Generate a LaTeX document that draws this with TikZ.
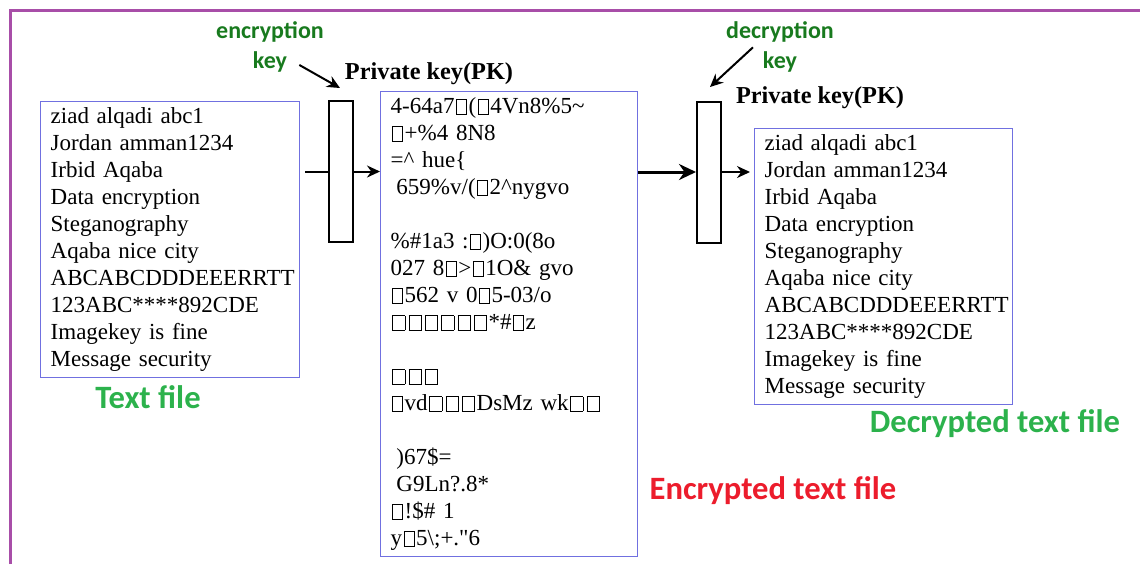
\documentclass[tikz,border=0pt]{standalone}
\usepackage{fontspec}
\setmainfont{Liberation Serif}
\newfontfamily\capfont{Carlito}
\usetikzlibrary{arrows.meta,positioning}
\definecolor{framepurple}{RGB}{168,78,168}
\definecolor{boxblue}{RGB}{112,112,224}
\definecolor{capgreen}{RGB}{44,178,76}
\definecolor{keygreen}{RGB}{24,122,30}
\definecolor{capred}{RGB}{236,28,44}
\hyphenpenalty=10000
\exhyphenpenalty=10000
\newcommand{\tofu}[1][0.4em]{\leavevmode\kern0.07em{\fboxsep=0pt\fboxrule=0.4pt\fbox{\rule{0pt}{0.6em}\kern#1}}\kern0.07em}
\tikzstyle{filebox}=[draw=boxblue,line width=0.7pt,anchor=north west,align=left,
  inner xsep=5pt,inner ysep=0pt,text width=119.5pt,font=\fontsize{11.5}{13.5}\selectfont]
\tikzstyle{keybox}=[draw,line width=1pt,minimum width=12pt,minimum height=70.5pt,inner sep=0pt]
\tikzstyle{filecaption}=[font=\capfont\bfseries\fontsize{16.3}{18}\selectfont]

\begin{document}
\begin{tikzpicture}[x=0.5pt,y=-0.5pt,>={Stealth[length=6.5pt,width=6pt]},node distance=15pt]
  \tikzstyle{keytxt}=[text=keygreen,font=\capfont\bfseries\fontsize{12}{14}\selectfont]
  \tikzstyle{pklabel}=[font=\bfseries\fontsize{12.15}{14}\selectfont]
  \tikzstyle{wire}=[line width=1pt]

  \useasboundingbox (0,0) rectangle (1140,564);
  \draw[framepurple,line width=1.5pt] (10,564) -- (10,10) -- (1140,10);

  \node[filebox,minimum height=138pt] (plain) at (40,101) {ziad alqadi abc1\\ Jordan amman1234\\
    Irbid Aqaba\\ Data encryption\\ Steganography\\ Aqaba nice city\\ ABCABCDDDEEERRTT\\
    123ABC****892CDE\\ Imagekey is fine\\ Message security};
  \node[filebox,text width=118.5pt,minimum height=232.5pt] (cipher) at (380,91) {4-64a7\tofu(\tofu4Vn8\%5\textasciitilde\\
    \tofu+\%4 8N8\\ =\textasciicircum{} hue\{\\ \hspace*{0.25em}659\%v/(\tofu2\textasciicircum nygvo\\ \mbox{}\\
    \%\#1a3 :\tofu)O:0(8o\\ 027 8\tofu>\tofu1O\& gvo\\ \tofu562 v 0\tofu5-03/o\\
    \tofu[0.5em]\tofu[0.5em]\tofu[0.5em]\tofu[0.5em]\tofu[0.5em]\tofu[0.5em]*\#\tofu z\\ \mbox{}\\
    \tofu[0.5em]\tofu[0.5em]\tofu[0.5em]\\
    \tofu vd\tofu[0.5em]\tofu[0.5em]\tofu[0.5em]DsMz wk\tofu[0.5em]\tofu[0.5em]\\ \mbox{}\\ \hspace*{0.25em})67\$=\\
    \hspace*{0.25em}G9Ln?.8*\\ \tofu!\$\# 1\\ y\tofu5\textbackslash;+.\textquotedbl6};
  \node[filebox,text width=119pt,minimum height=138pt] (decoded) at (754,128) {ziad alqadi abc1\\ Jordan amman1234\\
    Irbid Aqaba\\ Data encryption\\ Steganography\\ Aqaba nice city\\ ABCABCDDDEEERRTT\\
    123ABC****892CDE\\ Imagekey is fine\\ Message security};

  \node[keybox] (key1) at (341,171.5) {};
  \node[keybox] (key2) at (709,172) {};

  \node[pklabel] (pk1) at (429,74) {Private key(PK)};
  \node[pklabel] (pk2) at (820,98) {Private key(PK)};
  \node[keytxt] (enctxt) at (270,32) {encryption};
  \node[keytxt,below of=enctxt] (enckey) {key};
  \node[keytxt] (dectxt) at (780,32) {decryption};
  \node[keytxt,below of=dectxt] (deckey) {key};
  \coordinate (enctip) at (340,88);
  \coordinate (dectip) at (710,87);

  \node[filecaption,text=capgreen] (plaincap) at (148,397) {Text file};
  \node[filecaption,text=capred] (ciphercap) at (773,491) {Encrypted text file};
  \node[filecaption,text=capgreen] (decodedcap) at (995,424) {Decrypted text file};

  \draw[wire,shorten <=2.5pt] (plain.east |- key1.west) -- (key1.west);
  \draw[wire,->] (key1.east) -- (cipher.west |- key1.east);
  \draw[line width=1.5pt,-{Stealth[length=8.5pt,width=8pt]}] (cipher.east |- key2.west) -- (key2.west);
  \draw[wire,->,shorten >=2pt] (key2.east) -- (decoded.west |- key2.east);
  \draw[wire,->,shorten <=3pt] (enckey.east) -- (enctip);
  \draw[wire,->,shorten <=2pt] (deckey.north west) -- (dectip);
\end{tikzpicture}
\end{document}
